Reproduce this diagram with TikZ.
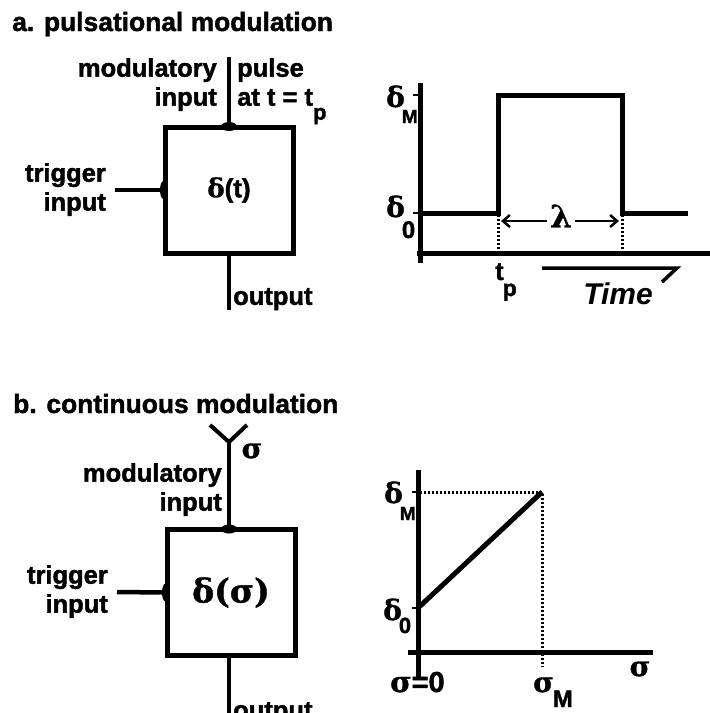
\documentclass[tikz,border=0pt]{standalone}
\usepackage{fontspec}
\setmainfont{Liberation Sans}[BoldFeatures={FakeBold=1.6}]
\newfontfamily\grk{DejaVu Serif}[BoldFeatures={FakeBold=1.2}]
\usetikzlibrary{arrows.meta}

\begin{document}
\begin{tikzpicture}[x=1pt,y=-1pt,
  lab/.style={inner sep=0pt,font=\fontsize{25.5}{29}\selectfont\bfseries},
  ttl/.style={inner sep=0pt,font=\fontsize{26.4}{30}\selectfont\bfseries},
  gk/.style={inner sep=0pt,font=\fontsize{28}{30}\selectfont\grk\bfseries},
  blk/.style={draw,line width=5pt,minimum width=128pt,minimum height=126pt,inner sep=0pt},
  w/.style={line width=4.5pt},
  ax/.style={line width=5pt},
  tk/.style={line width=2.5pt},
  dt/.style={line width=3pt,dash pattern=on 2pt off 2pt},
  arr/.style={line width=2.5pt,-{Straight Barb[length=7pt,width=12pt]}}]
  \useasboundingbox (0,0) rectangle (710,713);

  % a. pulsational modulation: block
  \node[ttl,anchor=base west] (ttla) at (12,31) {a. pulsational modulation};
  \node[blk,font=\fontsize{26}{30}\selectfont\bfseries] (boxa) at (229,190) {{\grk δ}(t)};
  \coordinate (mina) at (229,57);
  \coordinate (trga) at (115,190);
  \coordinate (outa) at (229,310);
  \draw[w] (mina) -- (boxa.north);
  \draw[w] (trga) -- (boxa.west);
  \draw[w] (boxa.south) -- (outa);
  \fill (boxa.north) ++(0,2) ellipse [x radius=8, y radius=4.5];
  \fill (boxa.west) ++(1,0) ellipse [x radius=3.5, y radius=9];
  \node[lab,align=right,anchor=north east] (mlaba) at (217,58) {modulatory\\input};
  \node[lab,align=left,anchor=north west] (plsa) at (237,58) {pulse\\at t = t\raisebox{-14pt}{\fontsize{22}{22}\selectfont p}};
  \node[lab,align=right,anchor=north east] (tlaba) at (106,163) {trigger\\input};
  \node[lab,anchor=north west] (olaba) at (233,288) {output};

  % a. pulse graph
  \draw[ax] (420,83) -- (420,263);
  \draw[ax] (417,253) -- (710,253);
  \foreach \y in {95,213} \draw[tk] (413,\y) -- (420,\y);
  \draw[ax] (420,213) -- (498,213) -- (498,95) -- (622,95) -- (622,213) -- (688,213);
  \draw[dt] (498,215) -- (498,251) (622,215) -- (622,251);
  \node[gk,font=\fontsize{31}{31}\selectfont\grk\bfseries] (lam) at (561,216) {λ};
  \coordinate (lmda) at (501,221);
  \coordinate (lmdb) at (619,221);
  \draw[arr] (lam.west |- lmda) ++(-3,0) -- (lmda);
  \draw[arr] (lam.east |- lmdb) ++(3,0) -- (lmdb);
  \node[gk,anchor=base west] (dma) at (386,107) {δ\kern-3pt\raisebox{-16pt}{\fontsize{19}{19}\selectfont\rmfamily\bfseries M}};
  \node[gk,anchor=base west] (d0a) at (386,217) {δ\kern-3pt\raisebox{-21pt}{\fontsize{24}{24}\selectfont\rmfamily\bfseries 0}};
  \node[lab,anchor=base west] (tpa) at (495,280) {t\kern-1pt\raisebox{-16pt}{\fontsize{23}{23}\selectfont p}};
  \coordinate (tma) at (542,268);
  \coordinate (tmb) at (677,268);
  \coordinate (tmc) at (662,282);
  \draw[line width=3.5pt] (tma) -- (tmb) -- (tmc);
  \node[lab,font=\fontsize{30}{30}\selectfont\bfseries\itshape] (time) at (618,294) {Time};

  % b. continuous modulation: block
  \node[ttl,anchor=base west] (ttlb) at (13,413) {b. continuous modulation};
  \node[blk,font=\fontsize{33}{36}\selectfont\grk\bfseries] (boxb) at (231,592.5) {δ(σ)};
  \coordinate (minb) at (229,442);
  \coordinate (yl) at (210,425);
  \coordinate (yr) at (247,425);
  \coordinate (trgb) at (117,592);
  \coordinate (outb) at (229,713);
  \draw[w] (minb) -- (minb |- boxb.north);
  \draw[line width=4pt] (yl) -- (minb) -- (yr);
  \draw[w] (trgb) -- (boxb.west);
  \draw[w] (outb |- boxb.south) -- (outb);
  \fill (minb |- boxb.north) ++(0,2) ellipse [x radius=8, y radius=4.5];
  \fill (boxb.west) ++(1,0) ellipse [x radius=3.5, y radius=9];
  \node[gk] (sgy) at (252,451) {σ};
  \node[lab,align=right,anchor=north east] (mlabb) at (222,463) {modulatory\\input};
  \node[lab,align=right,anchor=north east] (tlabb) at (108,565) {trigger\\input};
  \node[lab,anchor=north west] (olabb) at (233,702) {output};

  % b. ramp graph
  \draw[ax] (418,470) -- (418,677);
  \draw[ax] (408,652) -- (653,652);
  \foreach \y in {492,608} \draw[tk] (412,\y) -- (418,\y);
  \draw[dt] (420,492) -- (542,492) -- (542,667);
  \draw[ax] (418,608) -- (542,492);
  \node[gk,anchor=base west] (dmb) at (384,503) {δ\kern-3pt\raisebox{-17pt}{\fontsize{19}{19}\selectfont\rmfamily\bfseries M}};
  \node[gk,anchor=base west] (d0b) at (383,620) {δ\kern-3pt\raisebox{-13pt}{\fontsize{22}{22}\selectfont\rmfamily\bfseries 0}};
  \node[lab,font=\fontsize{29}{30}\selectfont\bfseries,anchor=base west] (s0) at (390,692) {{\grk σ}=0};
  \node[gk,anchor=base west] (smb) at (533,692) {σ\kern-1pt\raisebox{-15pt}{\fontsize{24}{24}\selectfont\rmfamily\bfseries M}};
  \node[gk] (sgx) at (640,669) {σ};
\end{tikzpicture}
\end{document}
